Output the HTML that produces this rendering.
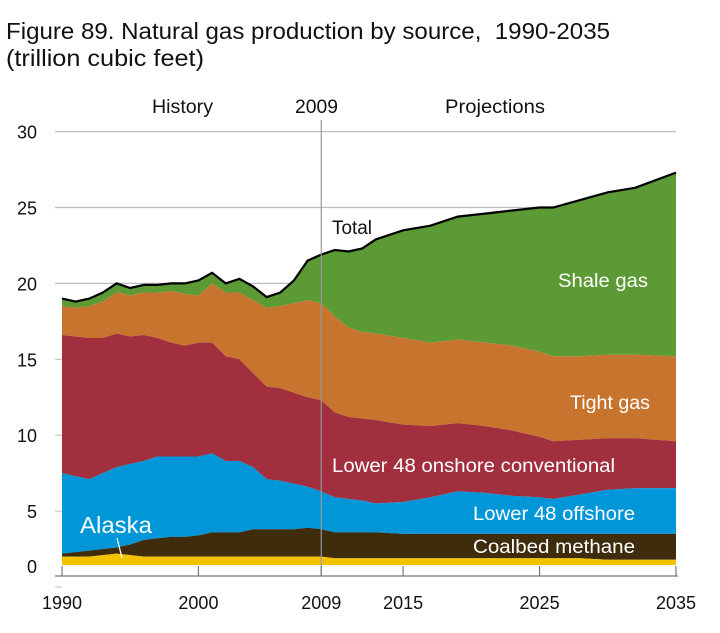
<!DOCTYPE html>
<html><head><meta charset="utf-8"><style>
body{margin:0;background:#fff;width:720px;height:628px;overflow:hidden;font-family:"Liberation Sans",sans-serif}
</style></head><body>
<svg width="720" height="628" viewBox="0 0 720 628" id="chart" font-family="Liberation Sans, sans-serif">
<text x="6" y="39" font-size="23" fill="#111" textLength="604" lengthAdjust="spacingAndGlyphs">Figure 89. Natural gas production by source,&#160; 1990-2035</text>
<text x="6" y="66" font-size="23" fill="#111" textLength="198" lengthAdjust="spacingAndGlyphs">(trillion cubic feet)</text>
<g id="grid"></g><g id="areas"></g><g id="overlay"></g>
</svg>
<script>
const years=[1990,1991,1992,1993,1994,1995,1996,1997,1998,1999,2000,2001,2002,2003,2004,2005,2006,2007,2008,2009,2010,2011,2012,2013,2015,2017,2019,2021,2023,2025,2026,2028,2030,2032,2035];
const totalTop=[19.0,18.8,19.0,19.4,20.0,19.7,19.9,19.9,20.0,20.0,20.2,20.7,20.0,20.3,19.8,19.1,19.4,20.2,21.5,21.9,22.2,22.1,22.3,22.9,23.5,23.8,24.4,24.6,24.8,25.0,25.0,25.5,26.0,26.3,27.3];
const tightTop=[18.5,18.4,18.5,18.8,19.4,19.2,19.4,19.4,19.5,19.3,19.2,20.0,19.4,19.4,18.9,18.4,18.5,18.7,18.9,18.7,17.8,17.1,16.8,16.7,16.4,16.1,16.3,16.1,15.9,15.5,15.2,15.2,15.3,15.3,15.2];
const onshoreTop=[16.6,16.5,16.4,16.4,16.7,16.5,16.6,16.4,16.1,15.9,16.1,16.1,15.2,15.0,14.1,13.2,13.1,12.8,12.5,12.3,11.5,11.2,11.1,11.0,10.7,10.6,10.8,10.6,10.3,9.9,9.6,9.7,9.8,9.8,9.6];
const offshoreTop=[7.5,7.3,7.1,7.5,7.9,8.1,8.3,8.6,8.6,8.6,8.6,8.8,8.3,8.3,7.9,7.1,7.0,6.8,6.6,6.3,5.9,5.8,5.7,5.5,5.6,5.9,6.3,6.2,6.0,5.9,5.8,6.1,6.4,6.5,6.5];
const coalbedTop=[2.2,2.3,2.4,2.5,2.6,2.8,3.1,3.2,3.3,3.3,3.4,3.6,3.6,3.6,3.8,3.8,3.8,3.8,3.9,3.8,3.6,3.6,3.6,3.6,3.5,3.5,3.5,3.5,3.5,3.5,3.5,3.5,3.5,3.5,3.5];
const alaskaTop=[2.0,2.0,2.0,2.1,2.2,2.1,2.0,2.0,2.0,2.0,2.0,2.0,2.0,2.0,2.0,2.0,2.0,2.0,2.0,2.0,1.9,1.9,1.9,1.9,1.9,1.9,1.9,1.9,1.9,1.9,1.9,1.9,1.8,1.8,1.8];
const baseLevel=1.45;
const yTicks=[0,5,10,15,20,25,30];
const xTicks=[1990,2000,2009,2015,2025,2035];
const NS="http://www.w3.org/2000/svg";
const x=yr=>62+(yr-1990)*(614/45);
const y=v=>587-v*15.18;
function mk(tag,attrs,parent){const e=document.createElementNS(NS,tag);for(const k in attrs)e.setAttribute(k,attrs[k]);parent.appendChild(e);return e;}
const grid=document.getElementById('grid'),areas=document.getElementById('areas'),ov=document.getElementById('overlay');
yTicks.forEach(t=>{
  if(t>=20){const l=mk('line',{x1:55,x2:676,y1:y(t),y2:y(t),stroke:'#bdbdbd','stroke-width':1.2},grid);
  
  }
  else{const l=mk('line',{x1:55,x2:62,y1:y(t),y2:y(t),stroke:'#bdbdbd','stroke-width':1},grid);
  
  }
  const tx=mk('text',{x:37,y:y(t)+(t===0?-14:7),'font-size':18,'text-anchor':'end',fill:'#111'},grid);tx.textContent=t;
  
  
});
const layers=[
 ['shale-gas-area',totalTop,tightTop,'#5b9a35'],
 ['tight-gas-area',tightTop,onshoreTop,'#c7742f'],
 ['onshore-conventional-area',onshoreTop,offshoreTop,'#a22f3e'],
 ['offshore-area',offshoreTop,coalbedTop,'#0096d7'],
 ['coalbed-methane-area',coalbedTop,alaskaTop,'#3e2c0c'],
 ['alaska-area',alaskaTop,years.map(()=>baseLevel),'#f4c300']];
layers.forEach(([nm,top,bot,col])=>{
  let d='M'+years.map((yr,i)=>x(yr).toFixed(1)+','+y(top[i]).toFixed(1)).join('L');
  for(let i=years.length-1;i>=0;i--)d+='L'+x(years[i]).toFixed(1)+','+y(bot[i]).toFixed(1);
  const p=mk('path',{d:d+'Z',fill:col},areas);
  
  
});
const tl=mk('path',{d:'M'+years.map((yr,i)=>x(yr).toFixed(1)+','+y(totalTop[i]).toFixed(1)).join('L'),fill:'none',stroke:'#000','stroke-width':2.2},ov);


const vl=mk('line',{x1:x(2009),x2:x(2009),y1:120,y2:576,stroke:'#999','stroke-width':1.2},ov);


const ax=mk('line',{x1:55,x2:678,y1:576,y2:576,stroke:'#777','stroke-width':1.2},ov);


xTicks.forEach(t=>{
  const l=mk('line',{x1:x(t),x2:x(t),y1:566,y2:576,stroke:'#777','stroke-width':1.2},ov);
  
  
  const tx=mk('text',{x:x(t),y:609,'font-size':18,'text-anchor':'middle',fill:'#111'},ov);tx.textContent=t;
  
  
});
const labels=[
 ['history-label','History',152,113,'#111',19,61],
 ['year-2009-label','2009',295,113,'#111',19,43],
 ['projections-label','Projections',445,113,'#111',19,100],
 ['total-label','Total',332,234,'#111',19,40],
 ['shale-gas-label','Shale gas',558,287,'#fff',19,90],
 ['tight-gas-label','Tight gas',570,409,'#fff',19,80],
 ['onshore-label','Lower 48 onshore conventional',332,472,'#fff',19,283],
 ['offshore-label','Lower 48 offshore',473,520,'#fff',19,162],
 ['coalbed-label','Coalbed methane',473,553,'#fff',19,162],
 ['alaska-label','Alaska',80,533,'#fff',23,72]];
labels.forEach(([nm,t,lx,ly,c,fs,w])=>{
  const tx=mk('text',{x:lx,y:ly,'font-size':fs,fill:c,textLength:w,lengthAdjust:'spacingAndGlyphs'},ov);tx.textContent=t;
  
  
});
const al=mk('line',{x1:117,y1:538,x2:122,y2:558,stroke:'#fff','stroke-width':1.2},ov);


</script>
</body></html>
